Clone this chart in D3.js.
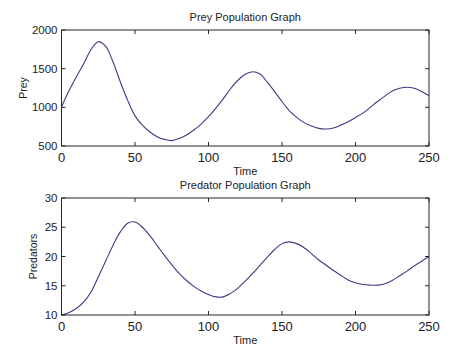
<!DOCTYPE html>
<html>
<head>
<meta charset="utf-8">
<script src="https://cdn.jsdelivr.net/npm/d3@7"></script>
<style>
  html, body { margin: 0; padding: 0; background: #fff; }
  svg { display: block; font-family: "Liberation Sans", Arial, sans-serif; }
</style>
</head>
<body>
<svg id="chart" width="474" height="355"></svg>
<script>
const time = [0,5,10,15,20,25,30,35,40,45,50,55,60,65,70,75,80,85,90,95,100,105,110,115,120,125,130,135,140,145,150,155,160,165,170,175,180,185,190,195,200,205,210,215,220,225,230,235,240,245,250];
const prey = [1005,1210,1390,1560,1745,1849,1790,1590,1330,1090,890,770,685,621,586,570,597,642,707,784,879,990,1110,1240,1350,1428,1461,1431,1325,1203,1075,955,871,802,759,728,720,733,770,815,868,925,1000,1075,1145,1210,1246,1259,1246,1205,1151];
const predators = [10.0,10.4,11.1,12.2,13.9,16.5,19.2,21.9,24.2,25.7,25.9,25.0,23.6,21.9,20.2,18.6,17.1,15.9,14.9,14.1,13.5,13.1,13.1,13.7,14.6,15.8,17.1,18.5,19.9,21.2,22.2,22.5,22.2,21.5,20.5,19.4,18.5,17.6,16.8,16.0,15.5,15.2,15.1,15.1,15.35,15.9,16.7,17.5,18.4,19.2,20.0];
const xTicks = [0,50,100,150,200,250];
const preyTicks = [500,1000,1500,2000];
const predTicks = [10,15,20,25,30];

const svg = d3.select("#chart");
const left = 61.5, right = 429;
const axisColor = "#262626";
const lineColor = "#3a3a86";

function panel(cfg) {
  const x = d3.scaleLinear().domain([0,250]).range([left, right]);
  const y = d3.scaleLinear().domain(cfg.yDomain).range([cfg.bottom, cfg.top]);
  const g = svg.append("g");
  const line = d3.line().x((d,i)=>x(time[i])).y(d=>y(d)).curve(d3.curveCatmullRom);
  g.append("path").datum(cfg.values).attr("d", line)
    .attr("fill","none").attr("stroke",lineColor).attr("stroke-width",1.1);
  g.append("rect").attr("x",left).attr("y",cfg.top).attr("width",right-left).attr("height",cfg.bottom-cfg.top)
    .attr("fill","none").attr("stroke",axisColor).attr("stroke-width",1);
  const tl = 4;
  xTicks.forEach(t=>{
    g.append("line").attr("x1",x(t)).attr("x2",x(t)).attr("y1",cfg.bottom).attr("y2",cfg.bottom-tl).attr("stroke",axisColor);
    g.append("line").attr("x1",x(t)).attr("x2",x(t)).attr("y1",cfg.top).attr("y2",cfg.top+tl).attr("stroke",axisColor);
    g.append("text").attr("x",x(t)).attr("y",cfg.bottom+16).attr("text-anchor","middle")
      .attr("font-size",13).attr("fill","#222").text(t);
  });
  cfg.yTicks.forEach(t=>{
    g.append("line").attr("x1",left).attr("x2",left+tl).attr("y1",y(t)).attr("y2",y(t)).attr("stroke",axisColor);
    g.append("line").attr("x1",right).attr("x2",right-tl).attr("y1",y(t)).attr("y2",y(t)).attr("stroke",axisColor);
    g.append("text").attr("x",left-4).attr("y",y(t)+4).attr("text-anchor","end")
      .attr("font-size",11.5).attr("fill","#222").text(t);
  });
  g.append("text").attr("x",(left+right)/2).attr("y",cfg.top-9).attr("text-anchor","middle")
    .attr("font-size",11).attr("fill","#222").text(cfg.title);
  g.append("text").attr("x",(left+right)/2).attr("y",cfg.bottom+29).attr("text-anchor","middle")
    .attr("font-size",11).attr("fill","#222").text("Time");
  g.append("text").attr("transform",`translate(${cfg.ylabelX},${(cfg.top+cfg.bottom)/2}) rotate(-90)`)
    .attr("text-anchor","middle").attr("font-size",10.5).attr("fill","#222").text(cfg.ylabel);
}

panel({top:30, bottom:146, yDomain:[500,2000], values:prey, yTicks:preyTicks,
       title:"Prey Population Graph", ylabel:"Prey", ylabelX:27});
panel({top:198, bottom:315, yDomain:[10,30], values:predators, yTicks:predTicks,
       title:"Predator Population Graph", ylabel:"Predators", ylabelX:37});
</script>
</body>
</html>
